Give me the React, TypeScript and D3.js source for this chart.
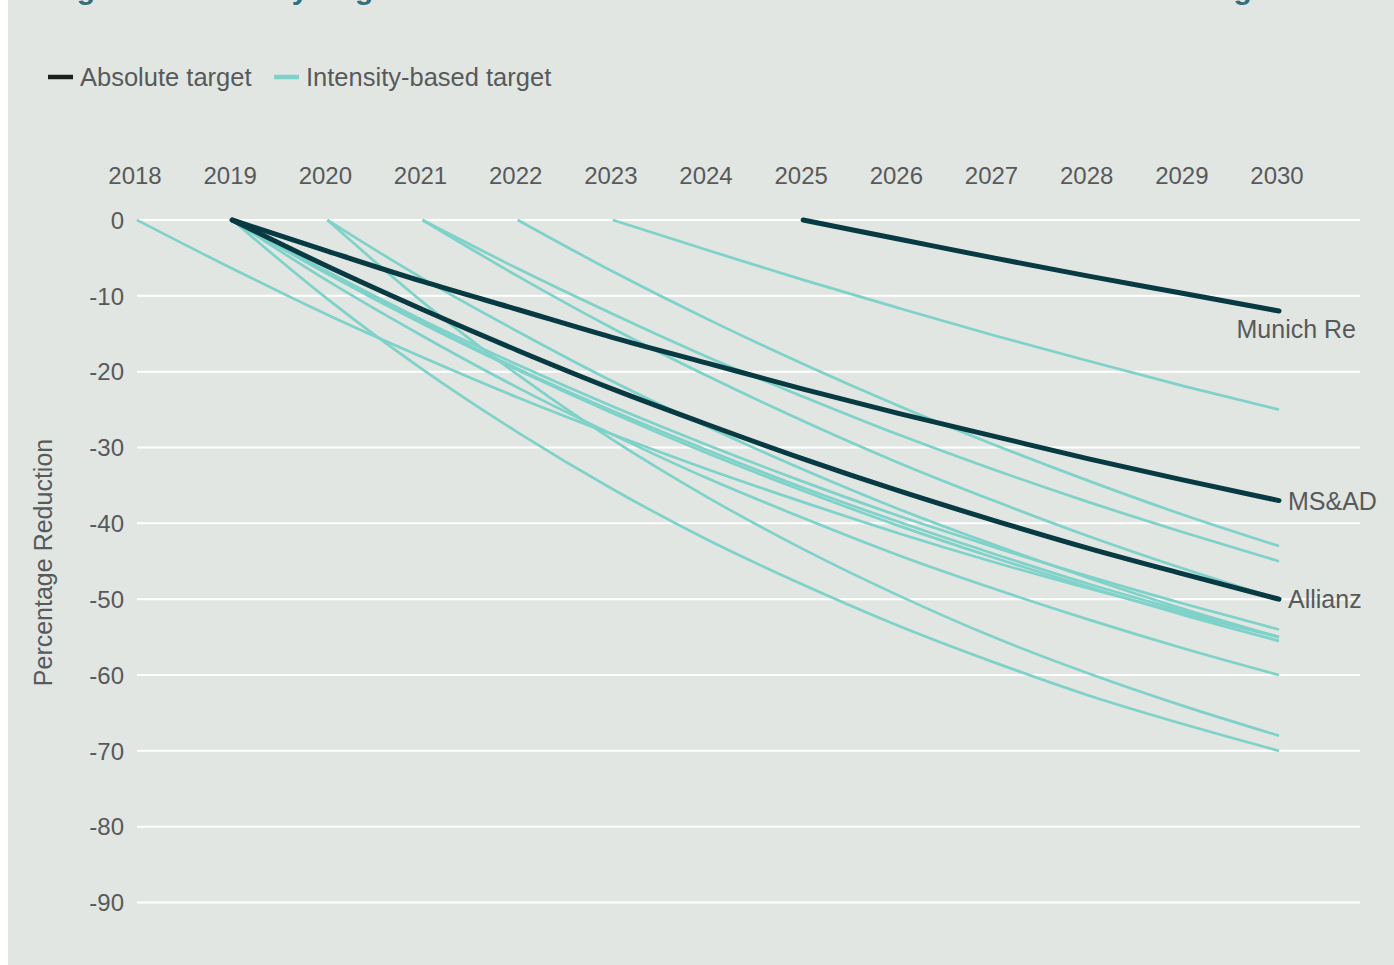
import React from 'react';
import * as d3 from 'd3';

// ---- Data ----
const years = [2018, 2019, 2020, 2021, 2022, 2023, 2024, 2025, 2026, 2027, 2028, 2029, 2030];
const yTickValues = [0, -10, -20, -30, -40, -50, -60, -70, -80, -90];

// Absolute targets (value per year from start year to 2030)
const munichRe = [0, -2.5, -5.0, -7.4, -9.7, -12];
const msad = [0, -4.1, -8.1, -11.8, -15.5, -18.9, -22.3, -25.5, -28.5, -31.5, -34.3, -37];
const allianz = [0, -6.1, -11.8, -17.2, -22.3, -27.0, -31.5, -35.7, -39.6, -43.3, -46.7, -50];

// Intensity-based targets
const int2018a = [0, -6.4, -12.5, -18.1, -23.4, -28.3, -32.9, -37.2, -41.3, -45.1, -48.6, -51.9, -55];
const int2019a = [0, -10.4, -19.7, -28.0, -35.5, -42.2, -48.1, -53.5, -58.3, -62.7, -66.5, -70];
const int2019b = [0, -8.0, -15.3, -22.1, -28.3, -34.1, -39.3, -44.2, -48.6, -52.7, -56.5, -60];
const int2019c = [0, -6.8, -13.2, -19.1, -24.6, -29.7, -34.5, -39.0, -43.1, -47.0, -50.6, -54];
const int2019d = [0, -7.0, -13.5, -19.6, -25.2, -30.4, -35.3, -39.8, -44.0, -48.0, -51.6, -55];
const int2019e = [0, -7.1, -13.7, -19.8, -25.5, -30.8, -35.7, -40.3, -44.5, -48.4, -52.1, -55.5];
const int2020a = [0, -10.8, -20.4, -29.0, -36.6, -43.4, -49.5, -55.0, -59.8, -64.1, -68];
const int2020b = [0, -7.7, -14.7, -21.3, -27.3, -32.9, -38.1, -42.8, -47.2, -51.3, -55];
const int2021a = [0, -6.4, -12.4, -18.1, -23.3, -28.3, -32.9, -37.2, -41.2, -45];
const int2021b = [0, -7.4, -14.3, -20.6, -26.5, -32.0, -37.0, -41.7, -46.0, -50];
const int2022a = [0, -6.8, -13.1, -19.0, -24.5, -29.6, -34.4, -38.9, -43];
const int2023a = [0, -4.0, -7.9, -11.6, -15.2, -18.6, -21.9, -25];

const absoluteSeries = [
  { name: 'Munich Re', start: 2025, values: munichRe },
  { name: 'MS&AD', start: 2019, values: msad },
  { name: 'Allianz', start: 2019, values: allianz },
];
const intensitySeries = [
  { start: 2018, values: int2018a },
  { start: 2019, values: int2019a },
  { start: 2019, values: int2019b },
  { start: 2019, values: int2019c },
  { start: 2019, values: int2019d },
  { start: 2019, values: int2019e },
  { start: 2020, values: int2020a },
  { start: 2020, values: int2020b },
  { start: 2021, values: int2021a },
  { start: 2021, values: int2021b },
  { start: 2022, values: int2022a },
  { start: 2023, values: int2023a },
];

const legendItems = [
  { label: 'Absolute target', color: '#1d1f1e' },
  { label: 'Intensity-based target', color: '#7fd2c9' },
];

const titleText = 'Figure 7: Intensity targets and absolute emission reduction ambitions for all the targets';
const yAxisTitle = 'Percentage Reduction';

// ---- Styles ----
const BG = '#e1e6e2';
const DARK = '#073a42';
const TEAL = '#7fd2c9';
const TEXT = '#58595b';
const FONT = '"Liberation Sans", Arial, sans-serif';

export default function App() {
  const W = 1394;
  const H = 965;
  const x = d3.scaleLinear().domain([2018, 2030]).range([137, 1279]);
  const y = d3.scaleLinear().domain([0, -90]).range([220, 902.5]);
  const gridX0 = 137;
  const gridX1 = 1360;

  const toPoints = (s: { start: number; values: number[] }) =>
    s.values.map((v, i) => [s.start + i, v] as [number, number]);

  const line = d3
    .line<[number, number]>()
    .x((d) => x(d[0]))
    .y((d) => y(d[1]))
    .curve(d3.curveMonotoneX);

  const labelPos: Record<string, { dx: number; dy: number; anchor: string }> = {
    'Munich Re': { dx: 77, dy: 27, anchor: 'end' },
    'MS&AD': { dx: 9, dy: 9, anchor: 'start' },
    Allianz: { dx: 9, dy: 8.5, anchor: 'start' },
  };

  return (
    <svg
      width={W}
      height={H}
      style={{ position: 'fixed', left: 0, top: 0, display: 'block' }}
      fontFamily={FONT}
    >
      <rect x={0} y={0} width={W} height={H} fill="#ffffff" />
      <rect x={8} y={0} width={W - 8} height={H} fill={BG} />

      {/* Title (cropped at top, as in the reference) */}
      <text x={50} y={-1} fontSize={30} fontWeight={700} fill="#346f7c">
        {titleText}
      </text>

      {/* Legend */}
      <g>
        {legendItems.map((it, i) => {
          const lx = i === 0 ? 48 : 274;
          return (
            <g key={it.label}>
              <line x1={lx} x2={lx + 25} y1={77} y2={77} stroke={it.color} strokeWidth={4.5} />
              <text x={lx + 32} y={86} fontSize={25.5} fill={TEXT}>
                {it.label}
              </text>
            </g>
          );
        })}
      </g>

      {/* Grid + y ticks */}
      {yTickValues.map((t) => (
        <g key={t}>
          <line x1={gridX0} x2={gridX1} y1={y(t)} y2={y(t)} stroke="#ffffff" strokeWidth={2} />
          <text x={124} y={y(t) + 8.7} fontSize={24} fill={TEXT} textAnchor="end">
            {t}
          </text>
        </g>
      ))}

      {/* x ticks on top */}
      {years.map((yr) => (
        <text key={yr} x={x(yr) - 2} y={184} fontSize={24} fill={TEXT} textAnchor="middle">
          {yr}
        </text>
      ))}

      {/* y axis title */}
      <text
        transform={`translate(52, ${562.5}) rotate(-90)`}
        fontSize={25}
        fill={TEXT}
        textAnchor="middle"
      >
        {yAxisTitle}
      </text>

      {/* Intensity lines */}
      {intensitySeries.map((s, i) => (
        <path
          key={'i' + i}
          d={line(toPoints(s)) || ''}
          fill="none"
          stroke={TEAL}
          strokeWidth={2.7}
        />
      ))}

      {/* Absolute lines */}
      {absoluteSeries.map((s) => (
        <path
          key={s.name}
          d={line(toPoints(s)) || ''}
          fill="none"
          stroke={DARK}
          strokeWidth={5}
          strokeLinecap="round"
          strokeLinejoin="round"
        />
      ))}

      {/* Labels */}
      {absoluteSeries.map((s) => {
        const last = s.values[s.values.length - 1];
        const p = labelPos[s.name];
        return (
          <text
            key={'l' + s.name}
            x={x(2030) + p.dx}
            y={y(last) + p.dy}
            fontSize={25}
            fill={TEXT}
            textAnchor={p.anchor as any}
          >
            {s.name}
          </text>
        );
      })}
    </svg>
  );
}
